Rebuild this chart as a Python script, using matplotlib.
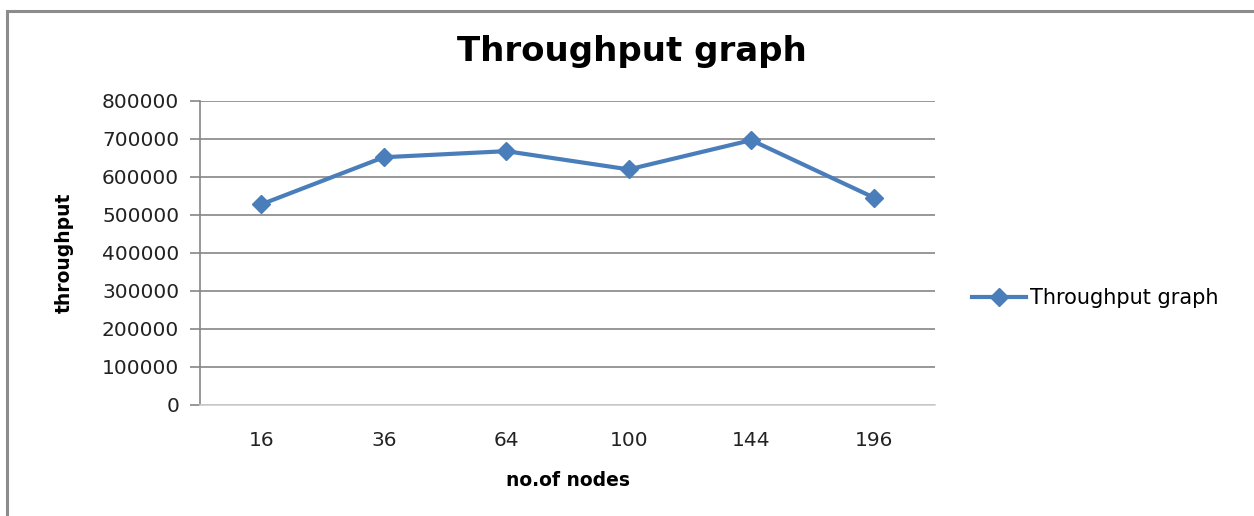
import matplotlib.pyplot as plt
from matplotlib.patches import Rectangle

# data
nodes = ['16', '36', '64', '100', '144', '196']
throughput = [528000, 652000, 668000, 620000, 697000, 546000]
yticks = [0, 100000, 200000, 300000, 400000, 500000, 600000, 700000, 800000]

BLUE = '#4A7EBB'
GRID = '#868686'

fig = plt.figure(figsize=(12.54, 5.16), dpi=100)

# outer chart frame (top and left edges visible)
fig.patches.append(Rectangle((7 / 1254, -0.1), 1.2, (516 - 11) / 516 + 0.1,
                             transform=fig.transFigure, fill=False,
                             edgecolor='#8c8c8c', linewidth=2.2))

ax = fig.add_axes([200 / 1254, 111 / 516, 735 / 1254, 304 / 516])

x = range(len(nodes))
ax.plot(x, throughput, color=BLUE, linewidth=3.0, marker='D', markersize=9.5,
        label='Throughput graph')

ax.set_xlim(-0.5, len(nodes) - 0.5)
ax.set_ylim(0, 800000)
ax.set_yticks(yticks)
ax.set_yticklabels([str(v) for v in yticks])
ax.set_xticks(list(x))
ax.set_xticklabels(nodes)

ax.yaxis.grid(True, color=GRID, linewidth=1.2)
ax.set_axisbelow(True)

for s in ['top', 'right']:
    ax.spines[s].set_visible(False)
ax.spines['left'].set_color(GRID)
ax.spines['left'].set_linewidth(1.2)
ax.spines['bottom'].set_color('#d0d0d0')
ax.spines['bottom'].set_linewidth(1.2)

ax.tick_params(axis='y', length=7, width=1.2, color=GRID, pad=8,
               labelsize=14.5, labelcolor='#222222')
ax.tick_params(axis='x', length=0, pad=19, labelsize=14.5, labelcolor='#222222')

ax.set_xlabel('no.of nodes', fontsize=13.5, fontweight='bold', labelpad=15)
ax.set_ylabel('throughput', fontsize=13.5, fontweight='bold', labelpad=20)

fig.text(632 / 1254, 1 - 52 / 516, 'Throughput graph', ha='center', va='center',
         fontsize=24.5, fontweight='bold')

ax.legend(loc='center left', bbox_to_anchor=(972 / 1254, 1 - 298 / 516),
          bbox_transform=fig.transFigure, frameon=False, fontsize=15,
          handlelength=2.6, handletextpad=0.2, borderpad=0, borderaxespad=0)

fig.savefig('out.png', dpi=100)
